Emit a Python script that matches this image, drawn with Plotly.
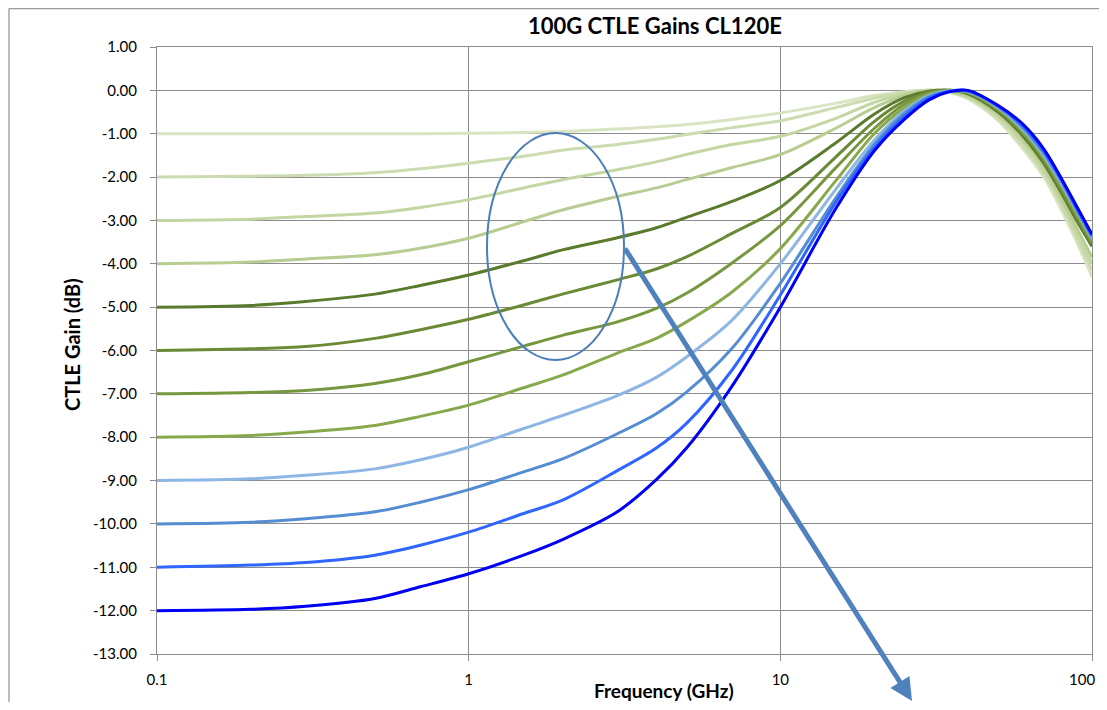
import plotly.graph_objects as go

# ---------------- data ----------------
FREQ_GHZ = [0.1, 0.2, 0.3, 0.5, 0.7, 1, 1.5, 2, 3, 4, 5, 7, 10, 15, 20, 25, 30, 35, 40, 50, 60, 70, 80, 90, 100]

SERIES_NAMES = ["DC -1 dB", "DC -2 dB", "DC -3 dB", "DC -4 dB", "DC -5 dB", "DC -6 dB",
                "DC -7 dB", "DC -8 dB", "DC -9 dB", "DC -10 dB", "DC -11 dB", "DC -12 dB"]

G1 = [-1.00, -1.00, -1.00, -1.00, -1.00, -0.99, -0.97, -0.95, -0.89, -0.84, -0.79, -0.67, -0.52, -0.30, -0.12, -0.03, 0.00, -0.05, -0.20, -0.70, -1.35, -2.00, -2.78, -3.55, -4.30]
G2 = [-2.00, -1.98, -1.96, -1.90, -1.81, -1.68, -1.52, -1.38, -1.25, -1.13, -1.02, -0.86, -0.70, -0.40, -0.18, -0.05, 0.00, -0.04, -0.17, -0.65, -1.28, -1.93, -2.68, -3.45, -4.15]
G3 = [-3.00, -2.97, -2.91, -2.83, -2.70, -2.52, -2.25, -2.06, -1.83, -1.65, -1.48, -1.25, -1.06, -0.65, -0.28, -0.08, 0.00, -0.03, -0.15, -0.60, -1.20, -1.85, -2.58, -3.35, -4.00]
G4 = [-4.00, -3.96, -3.89, -3.79, -3.64, -3.41, -3.03, -2.76, -2.45, -2.25, -2.06, -1.78, -1.48, -0.88, -0.40, -0.12, -0.01, -0.02, -0.12, -0.55, -1.12, -1.76, -2.50, -3.22, -3.85]
G5 = [-5.00, -4.96, -4.87, -4.70, -4.50, -4.26, -3.93, -3.68, -3.40, -3.17, -2.93, -2.56, -2.08, -1.22, -0.55, -0.17, -0.02, 0.00, -0.08, -0.50, -1.05, -1.68, -2.38, -3.05, -3.60]
G6 = [-6.00, -5.96, -5.91, -5.72, -5.52, -5.28, -4.95, -4.70, -4.37, -4.12, -3.84, -3.30, -2.70, -1.55, -0.72, -0.25, -0.04, 0.00, -0.06, -0.46, -1.00, -1.62, -2.32, -2.98, -3.55]
G7 = [-7.00, -6.97, -6.92, -6.76, -6.56, -6.26, -5.90, -5.65, -5.34, -5.03, -4.68, -3.98, -3.12, -1.80, -0.88, -0.32, -0.06, -0.01, -0.05, -0.44, -0.97, -1.58, -2.27, -2.93, -3.50]
G8 = [-8.00, -7.96, -7.88, -7.73, -7.52, -7.26, -6.86, -6.57, -6.06, -5.72, -5.34, -4.65, -3.65, -2.10, -1.00, -0.40, -0.09, -0.01, -0.04, -0.42, -0.94, -1.54, -2.22, -2.88, -3.46]
G9 = [-9.00, -8.96, -8.88, -8.73, -8.52, -8.23, -7.80, -7.50, -7.04, -6.62, -6.15, -5.30, -4.00, -2.30, -1.15, -0.47, -0.12, -0.01, -0.03, -0.40, -0.90, -1.50, -2.17, -2.83, -3.42]
G10 = [-10.00, -9.96, -9.88, -9.72, -9.50, -9.21, -8.80, -8.50, -7.92, -7.46, -6.96, -5.95, -4.45, -2.50, -1.25, -0.53, -0.15, -0.02, -0.02, -0.38, -0.86, -1.45, -2.12, -2.80, -3.38]
G11 = [-11.00, -10.95, -10.89, -10.72, -10.49, -10.19, -9.76, -9.45, -8.77, -8.25, -7.68, -6.45, -4.72, -2.60, -1.33, -0.60, -0.18, -0.02, -0.01, -0.36, -0.82, -1.40, -2.08, -2.76, -3.35]
G12 = [-12.00, -11.97, -11.90, -11.72, -11.45, -11.15, -10.72, -10.36, -9.72, -8.98, -8.25, -6.82, -5.00, -2.75, -1.40, -0.67, -0.22, -0.03, 0.00, -0.35, -0.78, -1.35, -2.05, -2.72, -3.32]

GAINS = [G1, G2, G3, G4, G5, G6, G7, G8, G9, G10, G11, G12]

Y_TICK_VALUES = [1, 0, -1, -2, -3, -4, -5, -6, -7, -8, -9, -10, -11, -12, -13]
Y_TICK_LABELS = ["1.00", "0.00", "-1.00", "-2.00", "-3.00", "-4.00", "-5.00", "-6.00",
                 "-7.00", "-8.00", "-9.00", "-10.00", "-11.00", "-12.00", "-13.00"]
X_TICK_VALUES = [0.1, 1, 10, 100]
X_TICK_LABELS = ["0.1", "1", "10", "100"]

TITLE = "100G CTLE Gains CL120E"
X_TITLE = "Frequency (GHz)"
Y_TITLE = "CTLE Gain (dB)"

# ---------------- styling ----------------
COLORS = ["#D8E4C2", "#CCDCB0", "#C4D6A2", "#B8CD92",
          "#5A7A2C", "#6A8A36", "#77973E", "#88A84C",
          "#8DB6E4", "#548DD2", "#2E66FF", "#0000F5"]

PAGE_OFF = 8                       # default body margin of the html page
W, H = 1107 - 2 * PAGE_OFF, 710 - 2 * PAGE_OFF
L, R, T, B = 157, 1092, 47, 654    # plot area in page pixels
GRID = "#8C8C8C"
FONT = "Lato, 'Open Sans', 'DejaVu Sans', sans-serif"


def px_x(px):
    return (px - L) / (R - L)


def px_y(py):
    return (B - py) / (B - T)


# the last tick label sits at the page edge: draw it right-aligned as an annotation
x_tick_text = X_TICK_LABELS[:-1] + [""]

fig = go.Figure()
for name, g, c in zip(SERIES_NAMES, GAINS, COLORS):
    fig.add_trace(go.Scatter(x=FREQ_GHZ, y=g, name=name, mode="lines",
                             line=dict(color=c, width=3, shape="spline", smoothing=0.9),
                             showlegend=False, hoverinfo="x+y+name"))

fig.update_layout(
    width=W, height=H, autosize=False,
    margin=dict(l=L - PAGE_OFF, r=W - (R - PAGE_OFF), t=T - PAGE_OFF, b=H - (B - PAGE_OFF)),
    paper_bgcolor="white", plot_bgcolor="white",
    font=dict(family=FONT, size=15, color="black"),
    showlegend=False,
)

fig.update_xaxes(type="log", range=[-1, 2], tickvals=X_TICK_VALUES, ticktext=x_tick_text,
                 showgrid=True, gridcolor=GRID, gridwidth=1.3,
                 showline=True, linecolor=GRID, linewidth=1.3, mirror=True,
                 ticks="outside", ticklen=6, tickcolor=GRID, tickwidth=1.3,
                 ticklabelstandoff=6, automargin=False,
                 tickfont=dict(size=15, color="black"), zeroline=False)
fig.update_yaxes(range=[-13, 1], tickvals=Y_TICK_VALUES, ticktext=Y_TICK_LABELS,
                 showgrid=True, gridcolor=GRID, gridwidth=1.3,
                 showline=True, linecolor=GRID, linewidth=1.3, mirror=True,
                 ticks="outside", ticklen=6, tickcolor=GRID, tickwidth=1.3,
                 ticklabelstandoff=10, automargin=False,
                 tickfont=dict(size=15, color="black"), zeroline=False)

fig.add_annotation(text=X_TICK_LABELS[-1], xref="paper", yref="paper",
                   x=px_x(1097), y=px_y(679), showarrow=False,
                   font=dict(size=15, color="black"), xanchor="right", yanchor="middle")

# outer chart border (left and top visible)
fig.add_shape(type="line", xref="paper", yref="paper", x0=px_x(9), x1=px_x(9), y0=px_y(8.6), y1=px_y(712),
              line=dict(color="#9A9A9A", width=1.3), layer="below")
fig.add_shape(type="line", xref="paper", yref="paper", x0=px_x(9), x1=px_x(1110), y0=px_y(8.6), y1=px_y(8.6),
              line=dict(color="#9A9A9A", width=1.3), layer="below")

# titles
fig.add_annotation(text="<b>" + TITLE + "</b>", xref="paper", yref="paper",
                   x=px_x(655), y=px_y(26), showarrow=False, font=dict(size=22, color="black"),
                   xanchor="center", yanchor="middle")
fig.add_annotation(text="<b>" + X_TITLE + "</b>", xref="paper", yref="paper",
                   x=px_x(664), y=px_y(690), showarrow=False, font=dict(size=19, color="black"),
                   xanchor="center", yanchor="middle")
fig.add_annotation(text="<b>" + Y_TITLE + "</b>", xref="paper", yref="paper",
                   x=px_x(72), y=px_y(345), showarrow=False, font=dict(size=20, color="black"),
                   textangle=-90, xanchor="center", yanchor="middle")

# ellipse highlight
fig.add_shape(type="circle", xref="paper", yref="paper",
              x0=px_x(487), x1=px_x(624), y0=px_y(360), y1=px_y(133),
              line=dict(color="#4A7EBB", width=2))

# trend arrow
fig.add_annotation(xref="paper", yref="paper", x=px_x(912), y=px_y(701),
                   ax=624 - 912, ay=247 - 701, axref="pixel", ayref="pixel",
                   text="", showarrow=True, arrowhead=2, arrowsize=0.9, arrowwidth=5,
                   arrowcolor="#4F81BD")

fig.write_html("out.html")
